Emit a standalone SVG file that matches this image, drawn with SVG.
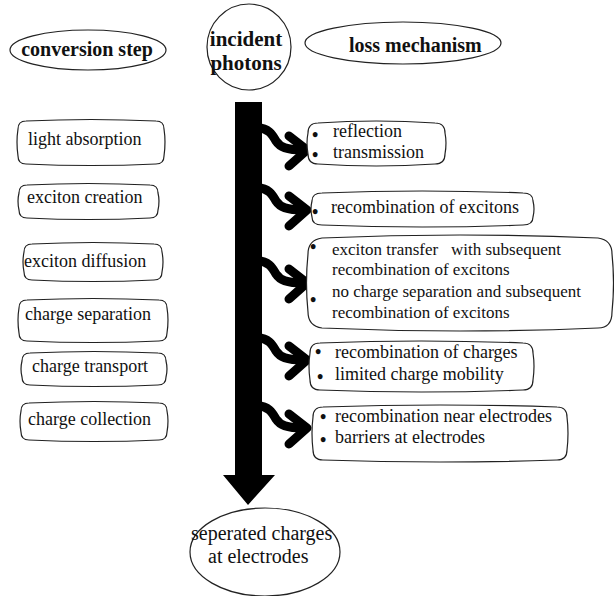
<svg xmlns="http://www.w3.org/2000/svg" xmlns:xlink="http://www.w3.org/1999/xlink" width="614" height="596" viewBox="0 0 614 596">
<style>
text{font-family:"Liberation Serif","Times New Roman",serif;fill:#111;}
.hd{font-size:20px;font-weight:bold;}
.t{font-size:18px;}
.t3{font-size:17px;}
.b{font-size:18px;font-weight:bold;}
.sh{fill:#fff;stroke:#222;stroke-width:1.2;}
.ca{fill:none;stroke:#000;stroke-width:9;stroke-linecap:round;stroke-linejoin:round;}
</style>
<defs>
<g id="curl">
<path class="ca" d="M -4 0 C 6 0 10 6 14 13 C 18 19 24 22 42 22"/>
<polyline class="ca" points="27,8 45,22 27,38"/>
</g>
</defs>
<rect width="614" height="596" fill="#fff"/>

<g id="connectors">
<path id="main-arrow" d="M235 102 H262 V475 H275 L248 505 L223 475 H235 Z" fill="#000"/>
<use xlink:href="#curl" href="#curl" transform="translate(262,128)"/>
<use xlink:href="#curl" href="#curl" transform="translate(262,188)"/>
<use xlink:href="#curl" href="#curl" transform="translate(262,261)"/>
<use xlink:href="#curl" href="#curl" transform="translate(262,338)"/>
<use xlink:href="#curl" href="#curl" transform="translate(262,406)"/>
</g>

<g id="conversion-step">
<ellipse class="sh" cx="88" cy="50" rx="78" ry="20"/>
<text class="hd" x="87" y="56" text-anchor="middle">conversion step</text>
</g>
<g id="incident-photons">
<ellipse class="sh" cx="249" cy="47" rx="42" ry="43"/>
<text class="hd" x="246" y="46" text-anchor="middle" style="font-size:21px">incident</text>
<text class="hd" x="246" y="70" text-anchor="middle" style="font-size:21px">photons</text>
</g>
<g id="loss-mechanism">
<ellipse class="sh" cx="403" cy="43" rx="98" ry="21"/>
<text class="hd" x="349" y="52">loss mechanism</text>
</g>

<g id="light-absorption">
<path class="sh" d="M26 121 Q91 118 156 121 Q164 121 164 129 Q166 142 164 156 Q164 164 156 164 Q91 167 26 164 Q18 164 18 156 Q16 142 18 129 Q18 121 26 121 Z"/>
<text class="t" x="28" y="145">light absorption</text>
</g>
<g id="exciton-creation">
<path class="sh" d="M27 185 Q88 182 150 185 Q158 185 158 193 Q160 201 158 210 Q158 218 150 218 Q88 221 27 218 Q19 218 19 210 Q17 201 19 193 Q19 185 27 185 Z"/>
<text class="t" x="27" y="203">exciton creation</text>
</g>
<g id="exciton-diffusion">
<path class="sh" d="M32 244 Q93 241 154 244 Q162 244 162 252 Q164 262 162 272 Q162 280 154 280 Q93 283 32 280 Q24 280 24 272 Q22 262 24 252 Q24 244 32 244 Z"/>
<text class="t" x="24" y="267">exciton diffusion</text>
</g>
<g id="charge-separation">
<path class="sh" d="M27 300 Q93 297 159 300 Q167 300 167 308 Q169 320 167 333 Q167 341 159 341 Q93 344 27 341 Q19 341 19 333 Q17 320 19 308 Q19 300 27 300 Z"/>
<text class="t" x="25" y="320">charge separation</text>
</g>
<g id="charge-transport">
<path class="sh" d="M30 353 Q94 350 158 353 Q166 353 166 361 Q168 369 166 377 Q166 385 158 385 Q94 388 30 385 Q22 385 22 377 Q20 369 22 361 Q22 353 30 353 Z"/>
<text class="t" x="32" y="372">charge transport</text>
</g>
<g id="charge-collection">
<path class="sh" d="M29 403 Q94 400 159 403 Q167 403 167 411 Q169 421 167 432 Q167 440 159 440 Q94 443 29 440 Q21 440 21 432 Q19 421 21 411 Q21 403 29 403 Z"/>
<text class="t" x="28" y="425">charge collection</text>
</g>

<g id="loss-reflection">
<path class="sh" d="M318 123 Q376 119 435 123 Q445 123 445 133 Q447 143 445 154 Q445 164 435 164 Q376 168 318 164 Q308 164 308 154 Q306 143 308 133 Q308 123 318 123 Z"/>
<text class="b" x="312" y="141">•</text>
<text class="t" x="333" y="137">reflection</text>
<text class="b" x="312" y="161">•</text>
<text class="t" x="333" y="158">transmission</text>
</g>
<g id="loss-excitons">
<path class="sh" d="M322 193 Q422 189 523 193 Q533 193 533 201 Q535 209 533 217 Q533 225 523 225 Q422 229 322 225 Q312 225 312 217 Q310 209 312 201 Q312 193 322 193 Z"/>
<text class="b" x="312" y="218">•</text>
<text class="t" x="331" y="213">recombination of excitons</text>
</g>
<g id="loss-transfer">
<path class="sh" d="M322 238 Q460 232 598 238 Q612 240 612 254 Q615 283 612 312 Q612 328 598 328 Q460 334 322 328 Q308 326 308 312 Q305 283 308 254 Q308 240 322 238 Z"/>
<text class="b" x="310" y="253">•</text>
<text class="t3" x="332" y="255" xml:space="preserve" style="white-space:pre">exciton transfer   with subsequent</text>
<text class="t3" x="332" y="275">recombination of excitons</text>
<text class="b" x="310" y="306">•</text>
<text class="t3" x="332" y="297">no charge separation and subsequent</text>
<text class="t3" x="332" y="318">recombination of excitons</text>
</g>
<g id="loss-charges">
<path class="sh" d="M320 343 Q421 339 523 343 Q533 343 533 353 Q535 366 533 380 Q533 390 523 390 Q421 394 320 390 Q310 390 310 380 Q308 366 310 353 Q310 343 320 343 Z"/>
<text class="b" x="315" y="358">•</text>
<text class="t" x="335" y="358">recombination of charges</text>
<text class="b" x="317" y="383">•</text>
<text class="t" x="335" y="380">limited charge mobility</text>
</g>
<g id="loss-electrodes">
<path class="sh" d="M323 407 Q440 403 557 407 Q567 407 567 417 Q569 433 567 450 Q567 460 557 460 Q440 464 323 460 Q313 460 313 450 Q311 433 313 417 Q313 407 323 407 Z"/>
<text class="b" x="320" y="423">•</text>
<text class="t" x="335" y="422">recombination near electrodes</text>
<text class="b" x="320" y="446">•</text>
<text class="t" x="335" y="443">barriers at electrodes</text>
</g>

<g id="separated-charges">
<ellipse class="sh" cx="265" cy="552" rx="75" ry="44"/>
<text class="t" x="191" y="540" style="font-size:20px">seperated charges</text>
<text class="t" x="208" y="563" style="font-size:20px">at electrodes</text>
</g>
</svg>
